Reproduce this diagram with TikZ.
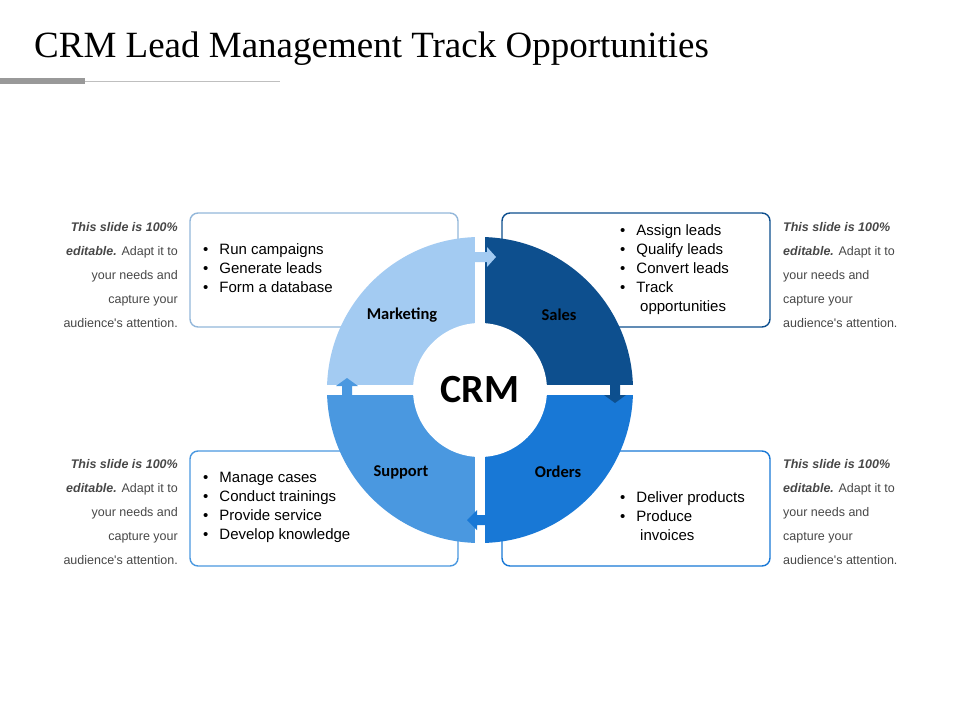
\documentclass[tikz,border=0pt]{standalone}
\usepackage{fontspec}
\setmainfont{Liberation Serif}
\newfontfamily\arial{Liberation Sans}
\newfontfamily\calib{Carlito}
\begin{document}
\begin{tikzpicture}[x=1pt,y=-1pt,
  side/.style={font=\arial\fontsize{12.5}{24}\selectfont,text=black!72,inner sep=0pt},
  blist/.style={font=\arial\fontsize{15}{19}\selectfont,text=black,inner sep=0pt,anchor=north west,align=left},
  qlabel/.style={font=\calib\bfseries\fontsize{16.5}{18}\selectfont,text=black},
  boxs/.style={rounded corners=8pt,line width=1.4pt,fill=white}]
\useasboundingbox (0,0) rectangle (960,720);
\definecolor{cM}{HTML}{A3CBF2}\definecolor{cS}{HTML}{0D4F8E}
\definecolor{cO}{HTML}{1878D6}\definecolor{cP}{HTML}{4A98E0}
\node[anchor=base west,inner sep=0pt,font=\fontsize{37}{40}\selectfont] (title) at (34,57) {CRM Lead Management Track Opportunities};
\fill[black!40] (0,78) rectangle (85,84);
\draw[black!25,line width=1pt] (85,81) -- (280,81);
% boxes
\draw[boxs,draw=cM!90!black] (190,213) rectangle (458,327);
\draw[boxs,draw=cS] (502,213) rectangle (770,327);
\draw[boxs,draw=cP] (190,451) rectangle (458,566);
\draw[boxs,draw=cO] (502,451) rectangle (770,566);
% quadrants
\coordinate (c) at (480,390);
\fill[cM] (c) -- (327,390) arc[start angle=180,end angle=90,x radius=153,y radius=-153] -- cycle;
\fill[cS] (c) -- (480,237) arc[start angle=90,end angle=0,x radius=153,y radius=-153] -- cycle;
\fill[cO] (c) -- (633,390) arc[start angle=0,end angle=-90,x radius=153,y radius=-153] -- cycle;
\fill[cP] (c) -- (480,543) arc[start angle=-90,end angle=-180,x radius=153,y radius=-153] -- cycle;
\draw[white,line width=10pt] (480,230) -- (480,550) (320,390) -- (640,390);
\fill[white] (c) circle[radius=67];
% arrows
\fill[cM] (470,252) -- (487,252) -- (487,247) -- (496,257) -- (487,267) -- (487,262) -- (470,262) -- cycle;
\fill[cS] (610,380) -- (610,395) -- (604,395) -- (615,403) -- (626,395) -- (620,395) -- (620,380) -- cycle;
\fill[cO] (490,515) -- (477,515) -- (477,510) -- (467,520) -- (477,530) -- (477,525) -- (490,525) -- cycle;
\fill[cP] (342,398) -- (342,386) -- (336,386) -- (347,378) -- (358,386) -- (352,386) -- (352,398) -- cycle;
\node[font=\calib\bfseries\fontsize{40}{42}\selectfont] (crm) at (c) {CRM};
\node[qlabel] (mk) at (402,315) {Marketing};
\node[qlabel] (sl) at (559,315) {Sales};
\node[qlabel] (sp) at (401,472) {Support};
\node[qlabel] (od) at (558,472) {Orders};
% bullets
\node[blist] (l1) at (203,243) {\textbullet\hspace{11pt}Run campaigns\\\textbullet\hspace{11pt}Generate leads\\\textbullet\hspace{11pt}Form a database};
\node[blist] (l2) at (620,224) {\textbullet\hspace{11pt}Assign leads\\\textbullet\hspace{11pt}Qualify leads\\\textbullet\hspace{11pt}Convert leads\\\textbullet\hspace{11pt}Track\\\hspace*{20pt}opportunities};
\node[blist] (l3) at (203,472) {\textbullet\hspace{11pt}Manage cases\\\textbullet\hspace{11pt}Conduct trainings\\\textbullet\hspace{11pt}Provide service\\\textbullet\hspace{11pt}Develop knowledge};
\node[blist] (l4) at (620,491) {\textbullet\hspace{11pt}Deliver products\\\textbullet\hspace{11pt}Produce\\\hspace*{20pt}invoices};
% side texts
\foreach \n/\y in {a/222,b/459}{
\node[side,anchor=north east,align=right] (s\n) at (178,\y) {\textbf{\textit{This slide is 100\%}}\\\textbf{\textit{editable.}} Adapt it to\\your needs and\\capture your\\audience's attention.};}
\foreach \n/\y in {c/222,d/459}{
\node[side,anchor=north west,align=left] (s\n) at (783,\y) {\textbf{\textit{This slide is 100\%}}\\\textbf{\textit{editable.}} Adapt it to\\your needs and\\capture your\\audience's attention.};}
\end{tikzpicture}
\end{document}
